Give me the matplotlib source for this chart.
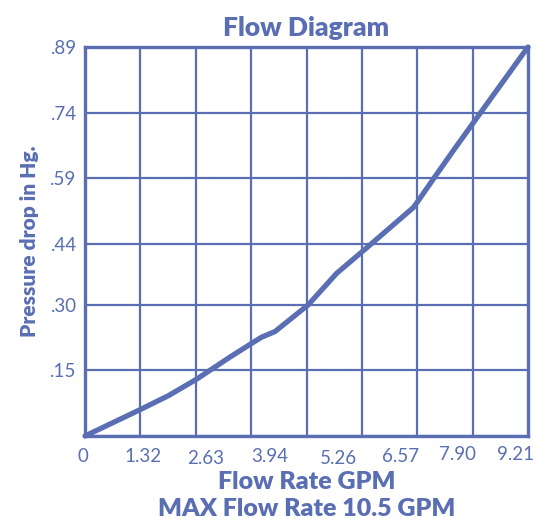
"""Flow diagram: pressure drop vs flow rate"""
import matplotlib
matplotlib.use("Agg")
import matplotlib.pyplot as plt
import matplotlib.transforms as mtransforms
import numpy as np

# data
flow_gpm = [0, 1.14, 1.73, 2.32, 3.02, 3.48, 3.67, 3.95, 4.64, 5.23, 5.84,
            6.83, 6.99, 7.28, 7.69, 8.18, 9.21]
pressure_hg = [0, 0.060, 0.092, 0.130, 0.181, 0.213, 0.226, 0.239, 0.300,
               0.372, 0.429, 0.523, 0.548, 0.594, 0.658, 0.733, 0.89]

x_ticks = [0, 1.32, 2.63, 3.94, 5.26, 6.57, 7.90, 9.21]
x_tick_labels = ["0", "1.32", "2.63", "3.94", "5.26", "6.57", "7.90", "9.21"]
y_ticks = [0, 0.15, 0.30, 0.44, 0.59, 0.74, 0.89]
y_tick_labels = ["", ".15", ".30", ".44", ".59", ".74", ".89"]

BLUE = "#5a6fb3"
plt.rcParams["font.family"] = ["Lato", "DejaVu Sans"]

fig = plt.figure(figsize=(5.51, 5.22), dpi=100)
ax = fig.add_axes([85 / 551, 86 / 522, 443 / 551, 389 / 522])

x_max, y_max = x_ticks[-1], y_ticks[-1]
ax.set_xlim(0, x_max)
ax.set_ylim(0, y_max)

# grid: 8 equal columns, rows at the labelled values
ax.set_xticks(np.linspace(0, x_max, 9), minor=True)
ax.grid(which="minor", axis="x", color=BLUE, linewidth=1.6)
ax.set_xticks(x_ticks, x_tick_labels)
ax.set_yticks(y_ticks, y_tick_labels)
ax.grid(which="major", axis="y", color=BLUE, linewidth=1.6)
ax.tick_params(which="both", length=0, colors=BLUE, labelsize=13.5)
ax.tick_params(axis="x", pad=9)
ax.tick_params(axis="y", pad=6)
ax.set_axisbelow(True)

# nudge x labels like the original artwork
dx = [-2, -5, -5.5, -4.5, 0, 0, -7, -12]
dy = [1, 1, -1, 1, -1, 1, 2.5, 2.5]
for lab, ox, oy in zip(ax.get_xticklabels(), dx, dy):
    lab.set_transform(lab.get_transform() +
                      mtransforms.ScaledTranslation(ox / 100, oy / 100, fig.dpi_scale_trans))

for s in ax.spines.values():
    s.set_color(BLUE)
    s.set_linewidth(2.4)

ax.plot(flow_gpm, pressure_hg, color=BLUE, linewidth=3.8,
        solid_capstyle="round", solid_joinstyle="round", clip_on=False)

ax.set_title("Flow Diagram", color=BLUE, fontsize=19, fontweight="heavy", pad=8)
ax.set_xlabel("Flow Rate GPM\nMAX Flow Rate 10.5 GPM", color=BLUE, fontsize=18,
              fontweight="heavy", linespacing=1.32, labelpad=3)
ax.set_ylabel("Pressure drop in Hg.", color=BLUE, fontsize=15,
              fontweight="heavy", labelpad=8)

fig.savefig("out.png", dpi=100)
